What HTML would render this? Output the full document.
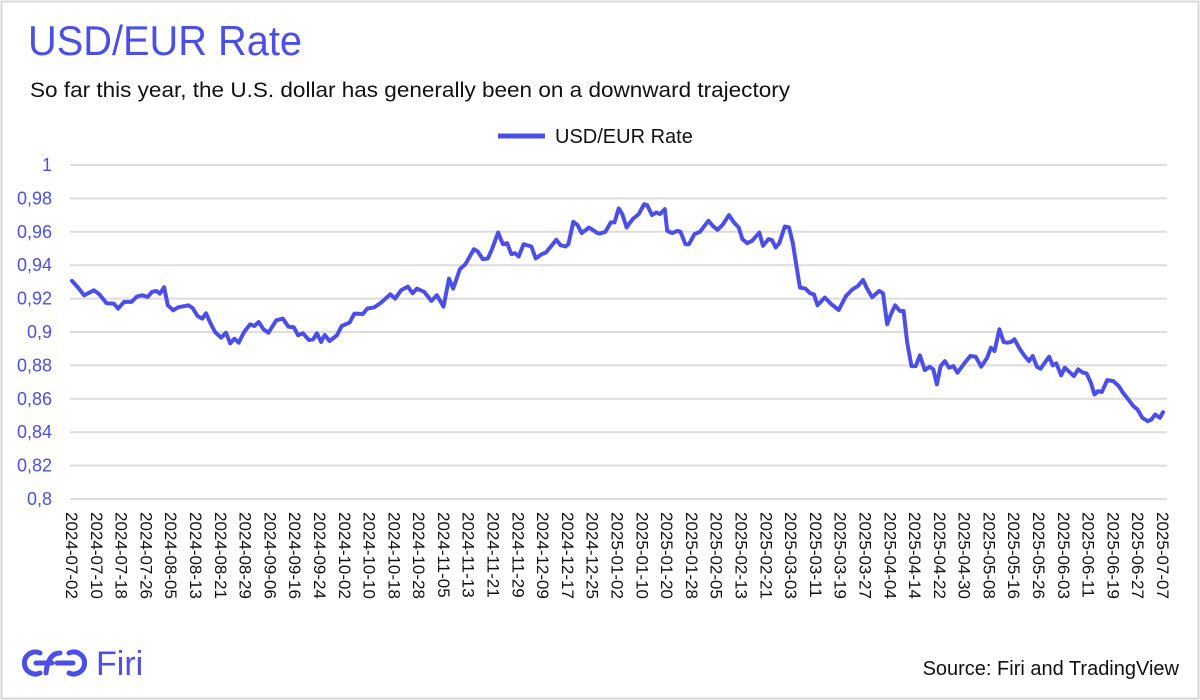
<!DOCTYPE html>
<html><head><meta charset="utf-8"><style>
html,body{margin:0;padding:0;background:#fff}
svg{display:block;font-family:"Liberation Sans",Arial,sans-serif}
</style></head><body>
<svg id="chart" width="1200" height="700" viewBox="0 0 1200 700">
<rect x="1.5" y="1.5" width="1197" height="697" fill="#fff" stroke="#d9d9d9" stroke-width="2"/>
<text x="28" y="55" font-size="42" fill="#4b4fe8" textLength="274" lengthAdjust="spacingAndGlyphs">USD/EUR Rate</text>
<text x="30" y="97" font-size="21" fill="#111" textLength="760" lengthAdjust="spacingAndGlyphs">So far this year, the U.S. dollar has generally been on a downward trajectory</text>
<g>
<line x1="498" y1="136" x2="545" y2="136" stroke="#4b4fe8" stroke-width="5"/>
<text x="555" y="143" font-size="20" fill="#111">USD/EUR Rate</text>
</g>
<g id="grid"></g>
<g id="yt"></g>
<g id="xt"></g>
<path id="ln" fill="none" stroke="#4b4fe8" stroke-width="4" stroke-linejoin="round" stroke-linecap="round"/>
<g>
<path d="M40 653 A11 11 0 1 0 40 673 M36 663 L52 663 M46 673 Q48 653 60 653 M57 663 L73 663 M69 653 A11 11 0 1 1 69 673" fill="none" stroke="#4b4fe8" stroke-width="5" stroke-linecap="round"/>
<text x="96" y="675" font-size="34" fill="#4b4fe8">Firi</text>
</g>
<text x="1179" y="675" font-size="20" fill="#111" text-anchor="end">Source: Firi and TradingView</text>
</svg>
<script>
const yTicks=[0.8,0.82,0.84,0.86,0.88,0.9,0.92,0.94,0.96,0.98,1];
const yTickLabels=["0,8","0,82","0,84","0,86","0,88","0,9","0,92","0,94","0,96","0,98","1"];
const xLabels=["2024-07-02","2024-07-10","2024-07-18","2024-07-26","2024-08-05","2024-08-13","2024-08-21","2024-08-29","2024-09-06","2024-09-16","2024-09-24","2024-10-02","2024-10-10","2024-10-18","2024-10-28","2024-11-05","2024-11-13","2024-11-21","2024-11-29","2024-12-09","2024-12-17","2024-12-25","2025-01-02","2025-01-10","2025-01-20","2025-01-28","2025-02-05","2025-02-13","2025-02-21","2025-03-03","2025-03-11","2025-03-19","2025-03-27","2025-04-04","2025-04-14","2025-04-22","2025-04-30","2025-05-08","2025-05-16","2025-05-26","2025-06-03","2025-06-11","2025-06-19","2025-06-27","2025-07-07"];
const dayRange=[0,180];
const days=[0,1,2,3.6,4.5,5.7,6.9,7.6,8.6,9.8,10.7,11.6,12.5,13.2,13.9,14.5,15.2,15.8,16.7,17.5,19.2,19.9,20.7,21.5,22.1,22.8,23.6,24.6,25.4,26.1,26.8,27.5,28.4,29.4,30.1,30.8,31.6,32.4,33.7,34.8,35.7,36.6,37.3,38.1,39.1,39.8,40.4,41.1,41.7,42.5,43.7,44.5,45.8,46.6,48,48.7,49.9,51,52.5,53.3,54.3,55.4,56.2,56.9,58.1,59.3,60.2,61.3,62.2,62.9,64,64.9,66.3,66.9,67.8,68.6,69.3,70.3,71.1,71.8,72.5,73.1,73.7,74.5,75.8,76.5,77.5,78.2,79.9,80.6,81.4,81.9,82.7,83.4,84.1,85.3,86.7,
87.1,88,88.9,89.5,90.2,90.8,91.5,92.5,93.5,94.4,94.9,95.7,96.4,97,97.8,98.2,99,99.9,100.4,101.2,101.8,102.7,103.6,105,105.7,106.5,107.3,108.4,109.2,110,110.6,111.4,112.2,113.4,114,114.9,115.5,116.1,116.7,117.6,118.3,118.9,120.1,121,121.8,122.4,123,124.2,125.3,126.5,127.7,128.8,129.7,130.5,131.1,132,133.2,133.8,134.5,135.1,135.8,136.6,137.2,137.8,138.5,139.2,139.9,140.7,141.5,142.1,142.7,143.3,144,144.7,145.4,146.1,147.3,148.2,149.1,150,151,151.6,152.2,153,153.7,154.3,154.9,155.5,156.4,157.1,157.9,158.5,159.2,159.8,160.4,161.2,161.8,162.4,163.2,163.8,164.7,165.3,166,166.8,167.4,168.1,168.7,169.3,169.9,170.8,171.8,172.7,173.4,174.2,175.1,175.8,176.6,177.5,178.1,178.7,179.5,180];
const rates=[0.9306,0.9266,0.922,0.925,0.9226,0.9172,0.917,0.914,0.918,0.918,0.9212,0.922,0.921,0.924,0.9246,0.923,0.9268,0.916,0.913,0.9148,0.916,0.9144,0.9096,0.908,0.9112,0.9056,0.9,0.8966,0.8996,0.8932,0.896,0.8936,0.9,0.9046,0.9036,0.906,0.9016,0.8996,0.907,0.908,0.9032,0.9028,0.898,0.8992,0.8952,0.8956,0.8992,0.894,0.8982,0.8946,0.898,0.9036,0.9056,0.911,0.9108,0.914,0.9148,0.9176,0.9226,0.92,0.925,0.9272,0.9232,0.926,0.924,0.9186,0.922,0.9152,0.932,0.926,0.9376,0.9406,0.9496,0.9484,0.9436,0.944,0.9496,0.9596,0.9526,0.9532,0.9466,0.9472,0.9452,0.9526,0.9512,0.944,0.9466,0.9476,0.9552,0.952,0.9512,0.9526,0.966,0.964,0.9592,0.9626,0.9592,
0.959,0.96,0.9656,0.9656,0.974,0.9706,0.9626,0.9676,0.9706,0.9766,0.976,0.97,0.9716,0.9706,0.9736,0.9606,0.9592,0.9606,0.96,0.9526,0.9526,0.9586,0.96,0.9666,0.9636,0.9612,0.964,0.97,0.9656,0.9626,0.9556,0.9532,0.9546,0.9596,0.9516,0.9556,0.955,0.9506,0.9532,0.9632,0.9626,0.9536,0.9266,0.926,0.9232,0.9226,0.916,0.9206,0.9166,0.9132,0.9216,0.9256,0.9276,0.9312,0.9266,0.9208,0.9246,0.9232,0.9046,0.9106,0.916,0.9126,0.9126,0.8936,0.8796,0.8796,0.886,0.8772,0.8792,0.8776,0.8686,0.8796,0.8826,0.8786,0.8796,0.8756,0.8816,0.8856,0.8852,0.8792,0.8846,0.8906,0.8886,0.9016,0.894,0.8936,0.894,0.8956,0.8896,0.886,0.8826,0.8856,0.8792,0.878,0.8812,0.8852,0.88,0.8812,0.874,0.8786,0.8756,0.8736,0.8776,0.8756,0.8752,0.8696,0.8626,0.8646,0.864,0.8712,0.8706,0.8676,0.8636,0.86,0.8556,0.8536,0.8486,0.8466,0.8476,0.8506,0.8486,0.852];

const NS="http://www.w3.org/2000/svg";
const X0=72,X1=1163,Y0=499,Y1=165;
const dMax=dayRange[1];
const labelStep=dMax/(xLabels.length-1);
function xs(d){return X0+d*(X1-X0)/dMax;}
function ys(v){return Y0-(v-0.8)/0.2*(Y0-Y1);}
const grid=document.getElementById('grid'),yt=document.getElementById('yt'),xt=document.getElementById('xt');
yTicks.forEach((v,i)=>{
  const l=document.createElementNS(NS,'line');
  l.setAttribute('x1',70);l.setAttribute('x2',1167);
  l.setAttribute('y1',ys(v));l.setAttribute('y2',ys(v));
  l.setAttribute('stroke','#dcdcdc');l.setAttribute('stroke-width','2');
  
  
  grid.appendChild(l);
  const t=document.createElementNS(NS,'text');
  t.setAttribute('x',52);t.setAttribute('y',ys(v)+6);
  t.setAttribute('text-anchor','end');t.setAttribute('font-size','18');t.setAttribute('fill','#4b4fe8');
  t.textContent=yTickLabels[i];
  
  
  yt.appendChild(t);
});
xLabels.forEach((s,i)=>{
  const x=xs(i*labelStep);
  const t=document.createElementNS(NS,'text');
  t.setAttribute('transform','translate('+(x-6)+',512) rotate(90)');
  t.setAttribute('font-size','17');t.setAttribute('fill','#111');
  t.textContent=s;
  
  
  xt.appendChild(t);
});
let d='';
rates.forEach((v,i)=>{d+=(i?'L':'M')+xs(days[i]).toFixed(1)+' '+ys(v).toFixed(1);});
document.getElementById('ln').setAttribute('d',d);
</script>
</body></html>
